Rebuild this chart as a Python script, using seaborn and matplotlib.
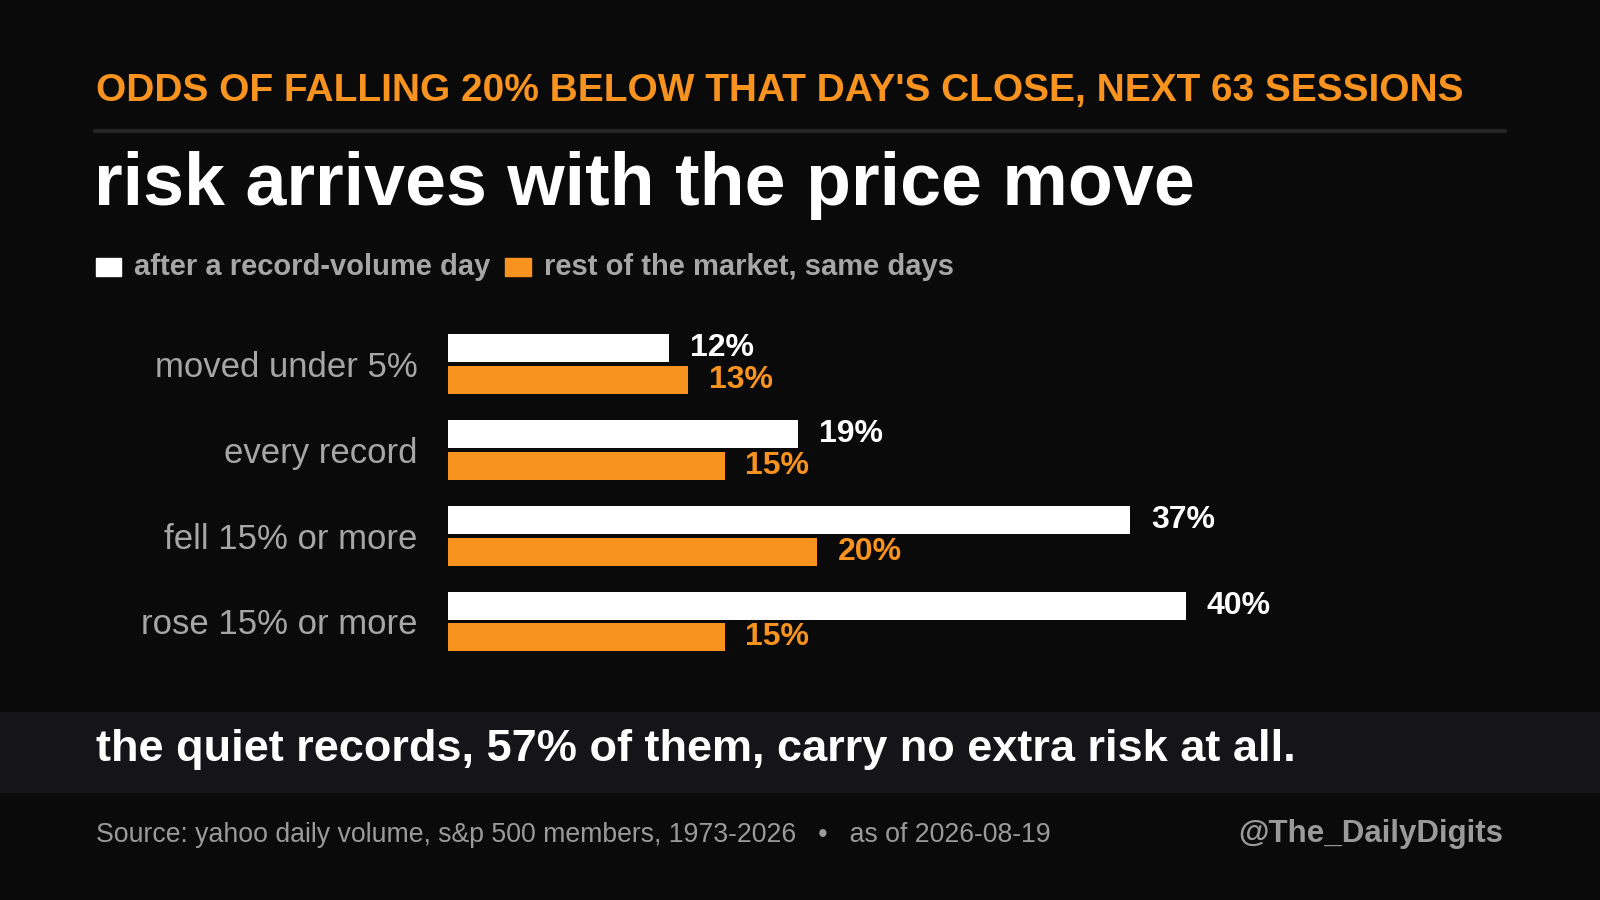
import matplotlib
matplotlib.use("Agg")
import matplotlib.pyplot as plt
import seaborn as sns
import pandas as pd

categories = ["moved under 5%", "every record", "fell 15% or more", "rose 15% or more"]
record_vals = [12, 19, 37, 40]
market_vals = [13, 15, 20, 15]
series_names = ["after a record-volume day", "rest of the market, same days"]

BG = "#0a0a0a"; ORANGE = "#f7931e"; WHITE = "#ffffff"; GRAY = "#a6a6a6"
sns.set_theme(style="dark")
plt.rcParams["font.family"] = ["Liberation Sans", "DejaVu Sans"]

df = pd.DataFrame({
    "cat": categories * 2,
    "val": record_vals + market_vals,
    "series": [series_names[0]] * 4 + [series_names[1]] * 4,
})

fig = plt.figure(figsize=(16, 9), dpi=100, facecolor=BG)
W, H = 1568, 882
def fx(x): return x / W
def fy(y): return 1 - y / H

fig.text(fx(94), fy(89), "ODDS OF FALLING 20% BELOW THAT DAY'S CLOSE, NEXT 63 SESSIONS",
         color=ORANGE, fontsize=28, fontweight="bold", va="center", ha="left")
fig.add_artist(plt.Line2D([fx(93), fx(1475)], [fy(128), fy(128)], color="#262626", lw=3))
fig.text(fx(92), fy(182), "risk arrives with the price move", color=WHITE,
         fontsize=53, fontweight="bold", va="center", ha="left")
# legend
fig.patches.append(plt.Rectangle((fx(94), fy(270)), fx(25), 17/H, color=WHITE, transform=fig.transFigure))
fig.text(fx(131), fy(262), series_names[0], color=GRAY, fontsize=21, fontweight="bold", va="center")
fig.patches.append(plt.Rectangle((fx(495), fy(270)), fx(25), 17/H, color=ORANGE, transform=fig.transFigure))
fig.text(fx(533), fy(262), series_names[1], color=GRAY, fontsize=21, fontweight="bold", va="center")

top, bot = 357 - 42, 609 + 42
x0 = 439; pxper = 723 / 40; xmax = 50
ax = fig.add_axes([fx(x0), fy(bot), fx(xmax * pxper), (bot - top) / H])
ax.set_facecolor(BG)
sns.barplot(data=df, y="cat", x="val", hue="series", palette=[WHITE, ORANGE],
            orient="h", width=0.74, gap=0.12, ax=ax, legend=False, saturation=1,
            linewidth=0, edgecolor="none")
ax.set_xlim(0, xmax)
ax.set_ylim(3.5, -0.5)
for c, col in zip(ax.containers, [WHITE, ORANGE]):
    ax.bar_label(c, labels=[f"{int(v)}%" for v in c.datavalues], padding=15,
                 color=col, fontsize=23, fontweight="bold")
ax.set_xlabel(""); ax.set_ylabel(""); ax.set_xticks([])
ax.tick_params(axis="y", length=0, pad=22, labelsize=25, labelcolor=GRAY)
for s in ax.spines.values(): s.set_visible(False)
ax.grid(False)
for t in ax.get_yticklabels(): t.set_color(GRAY)

fig.patches.append(plt.Rectangle((0, fy(776)), 1, 78/H, color="#141419", transform=fig.transFigure, zorder=0))
fig.text(fx(94), fy(735), "the quiet records, 57% of them, carry no extra risk at all.",
         color=WHITE, fontsize=32.5, fontweight="bold", va="center")
fig.text(fx(94), fy(818), "Source: yahoo daily volume, s&p 500 members, 1973-2026   •   as of 2026-08-19",
         color="#9a9a9a", fontsize=19.2, va="center")
fig.text(fx(1473), fy(817), "@The_DailyDigits", color="#9a9a9a", fontsize=22.5,
         fontweight="bold", va="center", ha="right")

fig.savefig("out.png", dpi=100, facecolor=BG)
